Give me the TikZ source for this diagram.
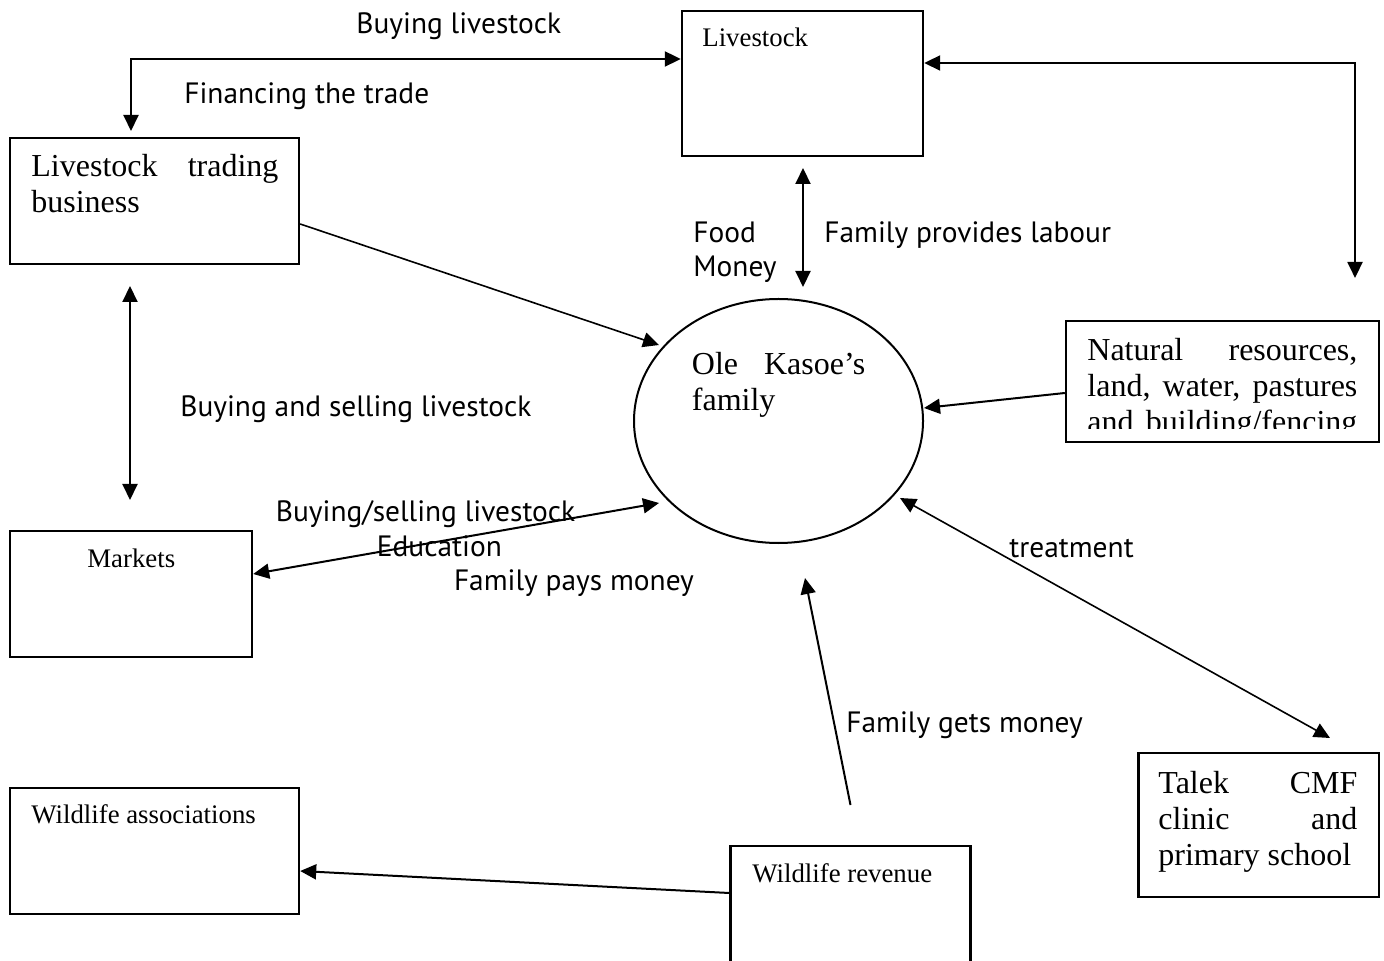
\documentclass[tikz,border=0pt]{standalone}
\usepackage{fontspec}
\setmainfont{Liberation Serif}
\newfontfamily\lblfont{PT Sans}
\usetikzlibrary{arrows.meta,shapes.geometric}

\begin{document}
\begin{tikzpicture}[x=0.5pt,y=-0.5pt,
  box/.style={draw, line width=1.2pt, rectangle, inner sep=0pt},
  small/.style={inner sep=0pt, font=\fontsize{13.4}{16}\selectfont},
  big/.style={inner sep=0pt, font=\fontsize{16}{18}\selectfont},
  lbl/.style={inner sep=0pt, font=\lblfont\fontsize{14.7}{17}\selectfont},
  arr/.style={-{Triangle[length=8pt,width=7.5pt]}, line width=1pt},
  arr2/.style={{Triangle[length=8pt,width=7.5pt]}-{Triangle[length=8pt,width=7.5pt]}, line width=1pt},
  thin arr/.style={line width=0.8pt}]

\useasboundingbox (0,0) rectangle (1384,961);
\clip (0,0) rectangle (1384,961);

% boxes
\node[box, minimum width=120.5pt, minimum height=72.5pt] (live) at (802.5,83.5) {};
\node[box, minimum width=144.5pt, minimum height=63pt] (trad) at (154.5,201) {};
\node[box, minimum width=121pt, minimum height=63pt] (mkt) at (131,594) {};
\node[box, minimum width=144.5pt, minimum height=63pt] (wass) at (154.5,851) {};
\node[box, minimum width=120pt, minimum height=72.5pt] (wrev) at (850.5,918.5) {};
\node[box, minimum width=120.25pt, minimum height=72pt] (talek) at (1258.75,825) {};
\node[box, minimum width=156.5pt, minimum height=60.5pt] (nat) at (1222.5,381.5) {};
\node[draw, ellipse, line width=1pt, minimum width=144.5pt, minimum height=122pt, inner sep=0pt] (fam) at (778.5,421) {};

% box texts
\node[small, anchor=base west] (liveT) at (702,47) {Livestock};
\node[small, anchor=base west] (mktT) at (87,567) {Markets};
\node[small, anchor=base west] (wassT) at (31,823) {Wildlife associations};
\node[small, anchor=base west] (wrevT) at (752,882) {Wildlife revenue};
\node[big, anchor=base west] (tradT) at (31,177) {\parbox[t]{123.5pt}{Livestock\hfill trading\\business}};
\node[big, anchor=base west] (famT) at (691.5,375) {\parbox[t]{86.75pt}{Ole\hfill Kasoe’s\\family}};
\node[big, anchor=base west] (talekT) at (1158,793) {\parbox[t]{99.5pt}{Talek\hfill CMF\\clinic\hfill and\\primary school}};
\begin{scope}
  \clip (1066,321) rectangle (1379,429);
  \node[big, anchor=base west] (natT) at (1087,361) {\parbox[t]{135pt}{Natural\hfill resources,\\land,\hfill water,\hfill pastures\\and\hfill building/fencing}};
\end{scope}

% flow labels
\node[lbl, anchor=base west] (l1) at (356,34) {Buying livestock};
\node[lbl, anchor=base west] (l2) at (184,104) {Financing the trade};
\node[lbl, anchor=base west] (l3) at (693,243) {\parbox[t]{60pt}{Food\\Money}};
\node[lbl, anchor=base west] (l4) at (824,243) {Family provides labour};
\node[lbl, anchor=base west] (l5) at (180,417) {Buying and selling livestock};
\node[lbl, anchor=base west] (l6) at (275.5,522) {Buying/selling livestock};
\node[lbl, anchor=base west] (l7) at (376.5,556) {Education};
\node[lbl, anchor=base west] (l8) at (453.6,590) {Family pays money};
\node[lbl, anchor=base west] (l9) at (1009,557) {treatment};
\node[lbl, anchor=base west] (l10) at (846,732) {Family gets money};

% free ends of connectors
\coordinate (tA) at (131,131);
\coordinate (rA) at (1355,278);
\coordinate (lvA) at (803,168);
\coordinate (lvB) at (803,287);
\coordinate (tfB) at (659,345);
\coordinate (mA) at (130,286);
\coordinate (mB) at (130,500);
\coordinate (mfB) at (659,503);
\coordinate (nfB) at (924,408);
\coordinate (tkA) at (900,498);
\coordinate (tkB) at (1330,738);
\coordinate (wfA) at (850.5,805);
\coordinate (wfB) at (805,578);

% connectors
\draw[arr2] (tA) |- ([yshift=12.25pt]live.west);
\draw[arr2] (rA) |- ([yshift=10.25pt]live.east);
\draw[arr2] (lvA) -- (lvB);
\draw[arr, thin arr] ([yshift=-11.5pt]trad.east) -- (tfB);
\draw[arr2] (mA) -- (mB);
\draw[arr2] ([yshift=10pt]mkt.east) -- (mfB);
\draw[arr] ([yshift=-5.75pt]nat.west) -- (nfB);
\draw[arr2, thin arr] (tkA) -- (tkB);
\draw[arr] (wfA) -- (wfB);
\draw[arr] ([yshift=12.75pt]wrev.west) -- ([yshift=-10pt]wass.east);
\end{tikzpicture}
\end{document}
